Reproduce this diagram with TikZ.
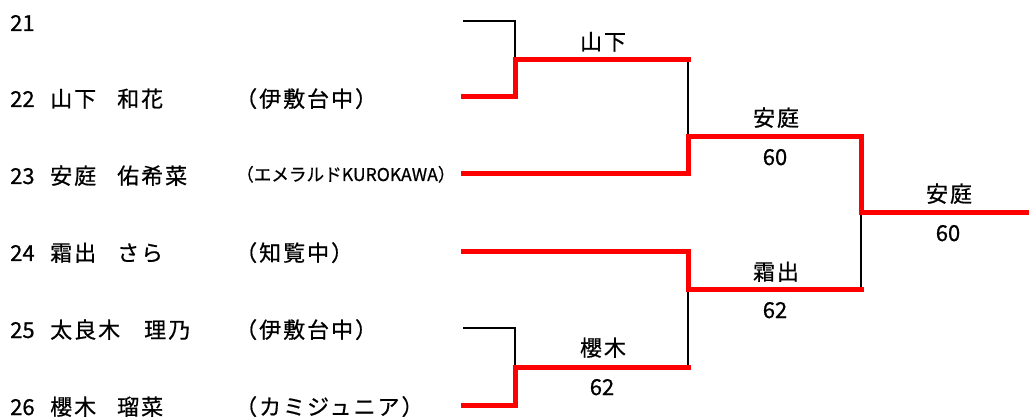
\documentclass[tikz,border=0pt]{standalone}
\usepackage{fontspec}
\setmainfont[FakeBold=0.6]{Noto Sans CJK JP}
\newfontfamily\jpwide[FakeBold=0.6,LetterSpace=9]{Noto Sans CJK JP}
\begin{document}
\begin{tikzpicture}[x=1pt,y=-1pt,
  num/.style={inner sep=0pt,anchor=base west,font=\fontsize{22}{24}\selectfont},
  txt/.style={inner sep=0pt,anchor=base west,font=\fontsize{22}{24}\jpwide},
  lab/.style={inner sep=0pt,anchor=base,font=\fontsize{22}{24}\jpwide},
  score/.style={inner sep=0pt,anchor=base,font=\fontsize{22}{24}\selectfont},
  win/.style={draw=red,line width=5pt,line join=miter,line cap=rect},
  lose/.style={draw=black,line width=1.5pt,line join=miter}]
\useasboundingbox (0,0) rectangle (1029,417);
% entrants
\foreach \n/\y/\a/\b/\gx/\s in {21/21///117/, 22/97/山下/和花/117/（伊敷台中）, 24/251/霜出/さら/117/（知覧中）, 25/328/太良木/理乃/144/（伊敷台中）, 26/405/櫻木/瑠菜/117/（カミジュニア）}{
  \node[num] (num\n) at (10,\y+10) {\n};
  \node[txt] (fam\n) at (50,\y+10) {\a};
  \node[txt] (giv\n) at (\gx,\y+10) {\b};
  \node[txt] (sch\n) at (235,\y+10) {\s};
}
\node[num] (num23) at (10,184) {23};
\node[txt] (fam23) at (50,184) {安庭};
\node[txt] (giv23) at (117,184) {佑希菜};
\node[num,font=\fontsize{17.6}{20}\selectfont] (sch23) at (236,181) {（エメラルドKUROKAWA）};
% coordinates
\coordinate (e21) at (463,21); \coordinate (e22) at (463,97);
\coordinate (e23) at (463,174); \coordinate (e24) at (463,251);
\coordinate (e25) at (463,328); \coordinate (e26) at (463,405);
\coordinate (m1) at (515,60); \coordinate (m2) at (515,367);
\coordinate (s1) at (688,137); \coordinate (s2) at (688,289);
\coordinate (f) at (861,213); \coordinate (fend) at (1029,213);
% black (losing) lines
\draw[lose] (e21) -| (m1);
\draw[lose] (e25) -| (m2);
\draw[lose] (m1 -| s1) -- (s1);
\draw[lose] (s2) -- (m2 -| s2);
\draw[lose] (f) -- (s2 -| f);
% red (winning) lines
\draw[win] (e22) -| (m1) -- (m1 -| s1);
\draw[win] (e26) -| (m2) -- (m2 -| s2);
\draw[win] (e23) -| (s1) -- (s1 -| f) -- (f) -- (fend);
\draw[win] (e24) -| (s2) -- (s2 -| f);
% results
\node[lab] (w1) at (603,50) {山下};
\node[lab] (w2) at (603,356) {櫻木};
\node[score] (sc2) at (602,395) {62};
\node[lab] (w3) at (776,126) {安庭};
\node[score] (sc3) at (775,165) {60};
\node[lab] (w4) at (776,280) {霜出};
\node[score] (sc4) at (775,318) {62};
\node[lab] (w5) at (949,202) {安庭};
\node[score] (sc5) at (948,241) {60};
\end{tikzpicture}
\end{document}
